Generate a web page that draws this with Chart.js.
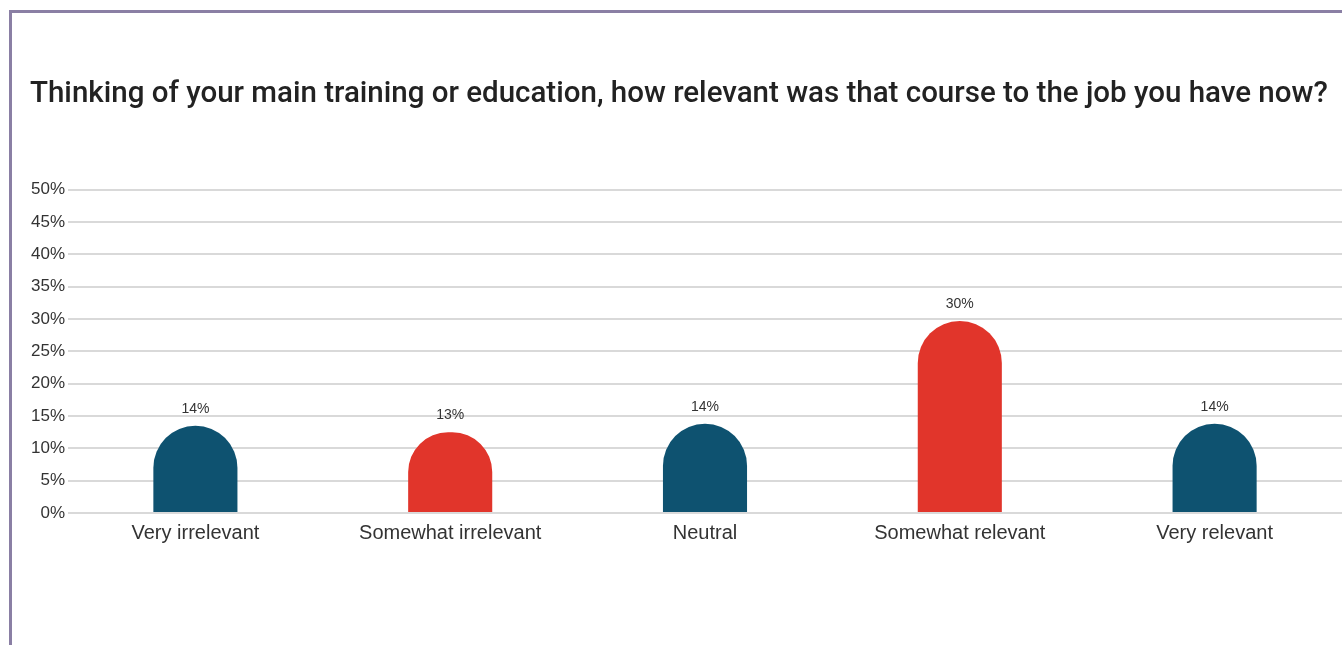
<!DOCTYPE html>
<html>
<head>
<meta charset="utf-8">
<script src="https://cdn.jsdelivr.net/npm/chart.js@4.4.1/dist/chart.umd.min.js"></script>
<style>
  html, body { margin: 0; padding: 0; background: #fff; overflow: hidden; }
  #frame {
    position: absolute; left: 9px; top: 10px; right: 0; bottom: 0;
    border-left: 3px solid #8a7fa4; border-top: 3px solid #8a7fa4;
  }
  #wrap { position: absolute; left: 0; top: 0; width: 1342px; height: 645px; }
</style>
</head>
<body>
<div id="frame"></div>
<div id="wrap"><canvas id="chartRelevance"></canvas></div>
<script>
/* ── Data ─────────────────────────────────────────────── */
const titleText = 'Thinking of your main training or education, how relevant was that course to the job you have now?';
const categories = ['Very irrelevant', 'Somewhat irrelevant', 'Neutral', 'Somewhat relevant', 'Very relevant'];
const shares = [13.5, 12.5, 13.8, 29.7, 13.8];
const barColors = ['#0e5270', '#e1352b', '#0e5270', '#e1352b', '#0e5270'];
const yTicks = [0, 5, 10, 15, 20, 25, 30, 35, 40, 45, 50];

const textColor = '#333333';
const gridColor = '#d9d9d9';
const labelFont = "'Liberation Sans', Arial, sans-serif";

// value labels above each bar
const barLabels = {
  id: 'barLabels',
  afterDatasetsDraw(chart) {
    const ctx = chart.ctx;
    const meta = chart.getDatasetMeta(0);
    ctx.save();
    ctx.font = '14px ' + labelFont;
    ctx.fillStyle = textColor;
    ctx.textAlign = 'center';
    ctx.textBaseline = 'middle';
    meta.data.forEach((bar, i) => {
      ctx.fillText(Math.round(shares[i]) + '%', bar.x, bar.y - 17);
    });
    ctx.restore();
  },
};

new Chart(document.getElementById('chartRelevance'), {
  type: 'bar',
  data: {
    labels: categories,
    datasets: [{
      data: shares,
      backgroundColor: barColors,
      borderWidth: 0,
      borderSkipped: 'bottom',
      borderRadius: { topLeft: 42, topRight: 42, bottomLeft: 0, bottomRight: 0 },
      barPercentage: 0.33,
      categoryPercentage: 1,
    }],
  },
  options: {
    responsive: true,
    maintainAspectRatio: false,
    animation: false,
    layout: { padding: { left: 30, right: 0, top: 20, bottom: 92 } },
    plugins: {
      legend: { display: false },
      tooltip: { enabled: false },
      title: {
        display: true,
        text: titleText,
        align: 'start',
        color: '#222222',
        font: { family: 'Roboto, sans-serif', size: 29.5, weight: '500', lineHeight: 1.2 },
        padding: { top: 57, bottom: 77.4 },
      },
    },
    scales: {
      x: {
        grid: { display: false, drawTicks: false },
        border: { display: false },
        ticks: {
          color: textColor,
          font: { family: labelFont, size: 20 },
          padding: 8,
          maxRotation: 0,
          autoSkip: false,
        },
        afterFit: (scale) => { scale.height = 40; },
      },
      y: {
        min: 0,
        max: 50,
        afterBuildTicks: (scale) => { scale.ticks = yTicks.map(v => ({ value: v })); },
        grid: { color: gridColor, lineWidth: 2, drawTicks: false },
        border: { display: false },
        ticks: {
          color: textColor,
          font: { family: labelFont, size: 17 },
          padding: 3,
          callback: (v) => v + '%',
        },
        afterFit: (scale) => { scale.width = 38; },
      },
    },
  },
  plugins: [barLabels],
});
</script>
</body>
</html>
